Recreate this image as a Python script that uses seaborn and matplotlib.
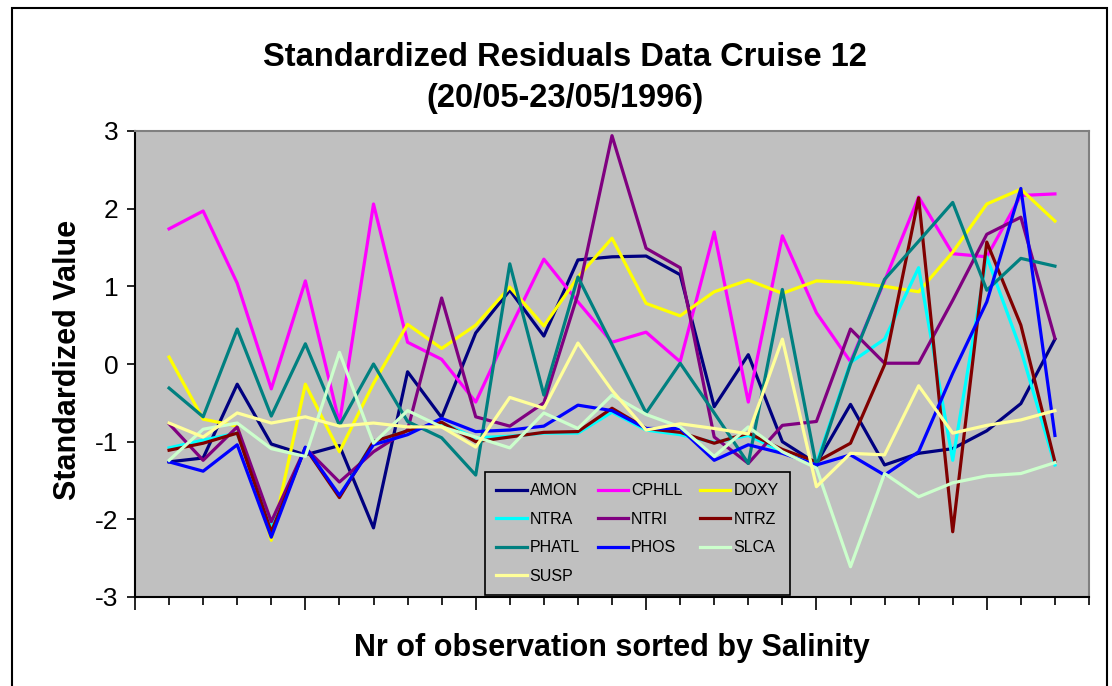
import numpy as np
import pandas as pd
import matplotlib
matplotlib.use('Agg')
import matplotlib.pyplot as plt
from matplotlib.lines import Line2D
from matplotlib.patches import Rectangle
import seaborn as sns

plt.rcParams['font.family'] = ['Liberation Sans', 'DejaVu Sans']
plt.rcParams['axes.unicode_minus'] = False

obs = list(range(1, 28))

AMON = [-1.26, -1.21, -0.26, -1.03, -1.17, -1.05, -2.11, -0.10, -0.69, 0.40, 0.95, 0.36, 1.34, 1.38,
        1.39, 1.15, -0.55, 0.12, -1.00, -1.28, -0.52, -1.30, -1.15, -1.09, -0.86, -0.51, 0.32]
CPHLL = [1.74, 1.97, 1.04, -0.32, 1.07, -0.76, 2.06, 0.28, 0.06, -0.49, 0.45, 1.35, 0.80, 0.28,
         0.41, 0.03, 1.70, -0.49, 1.65, 0.66, 0.03, 1.07, 2.15, 1.42, 1.38, 2.17, 2.19]
DOXY = [0.09, -0.71, -0.80, -2.27, -0.26, -1.13, -0.25, 0.51, 0.20, 0.50, 0.99, 0.49, 1.12, 1.62,
        0.78, 0.62, 0.93, 1.08, 0.91, 1.07, 1.05, 1.00, 0.93, 1.44, 2.06, 2.25, 1.84]
NTRA = [-1.08, -0.98, -0.89, -2.10, -1.08, -1.70, -1.00, -0.86, -0.76, -0.95, -0.93, -0.89, -0.89, -0.62,
        -0.85, -0.91, -1.01, -0.92, -1.13, -1.28, 0.02, 0.32, 1.24, -1.24, 1.38, 0.18, -1.30]
NTRI = [-0.77, -1.24, -0.81, -2.03, -1.08, -1.52, -1.13, -0.85, 0.85, -0.68, -0.80, -0.50, 0.90, 2.94,
        1.49, 1.24, -0.94, -1.28, -0.79, -0.74, 0.45, 0.01, 0.01, 0.82, 1.67, 1.89, 0.33]
NTRZ = [-1.11, -1.02, -0.89, -2.16, -1.08, -1.72, -1.00, -0.86, -0.75, -1.00, -0.94, -0.88, -0.87, -0.57,
        -0.83, -0.88, -1.02, -0.89, -1.10, -1.26, -1.02, -0.01, 2.14, -2.16, 1.57, 0.50, -1.26]
PHATL = [-0.31, -0.68, 0.45, -0.67, 0.26, -0.79, 0.00, -0.74, -0.95, -1.43, 1.29, -0.40, 1.12, 0.25,
         -0.63, 0.01, -0.63, -1.28, 0.96, -1.32, 0.00, 1.09, 1.58, 2.08, 0.95, 1.36, 1.26]
PHOS = [-1.26, -1.38, -1.04, -2.23, -1.07, -1.69, -1.04, -0.91, -0.70, -0.87, -0.85, -0.80, -0.53, -0.60,
        -0.83, -0.83, -1.24, -1.04, -1.15, -1.30, -1.17, -1.43, -1.13, -0.12, 0.80, 2.26, -0.92]
SLCA = [-1.24, -0.84, -0.76, -1.09, -1.19, 0.15, -1.02, -0.60, -0.81, -0.94, -1.08, -0.63, -0.83, -0.40,
        -0.65, -0.81, -1.19, -0.81, -1.13, -1.34, -2.61, -1.41, -1.71, -1.53, -1.44, -1.41, -1.27]
SUSP = [-0.76, -0.94, -0.63, -0.76, -0.68, -0.80, -0.76, -0.81, -0.81, -1.07, -0.43, -0.57, 0.27, -0.34,
        -0.85, -0.77, -0.83, -0.90, 0.32, -1.58, -1.15, -1.17, -0.28, -0.89, -0.79, -0.72, -0.60]

names = ['AMON', 'CPHLL', 'DOXY', 'NTRA', 'NTRI', 'NTRZ', 'PHATL', 'PHOS', 'SLCA', 'SUSP']
colors = ['#000080', '#FF00FF', '#FFFF00', '#00FFFF', '#800080', '#800000', '#008080', '#0000FF',
          '#CCFFCC', '#FFFF99']
values = [AMON, CPHLL, DOXY, NTRA, NTRI, NTRZ, PHATL, PHOS, SLCA, SUSP]

df = pd.DataFrame({'obs': obs})
for n, v in zip(names, values):
    df[n] = v
df = df.melt(id_vars='obs', var_name='series', value_name='value')

fig = plt.figure(figsize=(11.12, 6.86), dpi=100)
ax = fig.add_axes([135 / 1112, 1 - 597 / 686, 954 / 1112, 466 / 686])
ax.set_facecolor('#C0C0C0')

sns.lineplot(data=df, x='obs', y='value', hue='series', hue_order=names,
             palette=dict(zip(names, colors)), lw=2.3, errorbar=None, legend=False, ax=ax)

ax.set_xlim(0, 28)
ax.set_ylim(-3, 3)
ax.set_xticks(range(0, 29, 5))
ax.set_xticks(range(0, 29), minor=True)
ax.set_xticklabels([])
ax.set_yticks(range(-3, 4))
ax.tick_params(axis='x', which='major', length=9, width=1.2, direction='out')
ax.tick_params(axis='x', which='minor', length=6, width=1.2, direction='out')
ax.tick_params(axis='y', length=6, width=1.2, labelsize=19, pad=6)
for s in ['top', 'right']:
    ax.spines[s].set_color('#808080')
    ax.spines[s].set_linewidth(1.5)
for s in ['left', 'bottom']:
    ax.spines[s].set_color('black')
    ax.spines[s].set_linewidth(1.5)

ax.set_xlabel('')
ax.set_ylabel('')
fig.text(612 / 1112, 1 - 648 / 686, 'Nr of observation sorted by Salinity', ha='center', va='center',
         fontsize=22, fontweight='bold')
fig.text(68 / 1112, 1 - 360 / 686, 'Standardized Value', ha='center', va='center', rotation=90,
         fontsize=22, fontweight='bold')
fig.text(565 / 1112, 1 - 58 / 686, 'Standardized Residuals Data Cruise 12', ha='center', va='center',
         fontsize=23.5, fontweight='bold')
fig.text(565 / 1112, 1 - 98 / 686, '(20/05-23/05/1996)', ha='center', va='center',
         fontsize=23.5, fontweight='bold')

# legend filled row by row like the original
order = [0, 3, 6, 9, 1, 4, 7, 2, 5, 8]
handles = [Line2D([], [], color=colors[i], lw=2.3) for i in order]
labels = [names[i] for i in order]
leg = ax.legend(handles, labels, ncol=3, loc='upper left', bbox_to_anchor=(485 / 1112, 1 - 472 / 686),
                bbox_transform=fig.transFigure, fontsize=11.5, frameon=True, fancybox=False,
                edgecolor='black', facecolor='#C0C0C0', framealpha=1, handlelength=1.9,
                handletextpad=0.2, columnspacing=1.1, labelspacing=0.85, borderpad=0.7,
                borderaxespad=0)
leg.get_frame().set_linewidth(1.2)

fig.patches.append(Rectangle((12 / 1112, -0.01), 1095 / 1112, 1 - 8 / 686 + 0.01, transform=fig.transFigure,
                             fill=False, edgecolor='black', lw=1.5))

plt.savefig('out.png', dpi=100)
